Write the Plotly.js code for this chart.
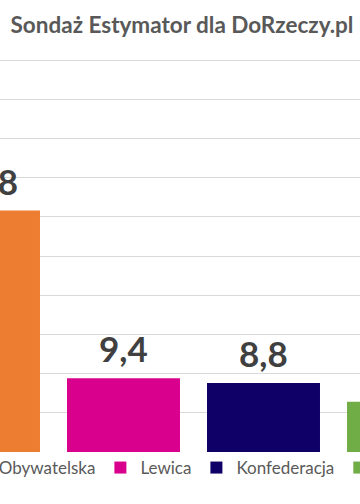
<!DOCTYPE html>
<html>
<head>
<meta charset="utf-8">
<script src="https://cdn.plot.ly/plotly-3.0.1.min.js"></script>
<style>
html,body{margin:0;padding:0;background:#fff;overflow:hidden;width:360px;height:504px;}
#wrap{position:relative;width:360px;height:504px;overflow:hidden;}
#chart{position:absolute;left:-200px;top:0;width:760px;height:504px;}
</style>
</head>
<body>
<div id="wrap"><div id="chart"></div></div>
<script>
const categories = ["Koalicja Obywatelska", "Lewica", "Konfederacja", "Trzecia Droga"];
const values = [30.8, 9.4, 8.8, 6.4];
const colors = ["#ED7D31", "#D9008D", "#0E0066", "#70AD47"];
const yTicks = [0, 5, 10, 15, 20, 25, 30, 35, 40, 45, 50];

const fmt = v => v.toFixed(1).replace('.', ',');
const FONT = 'Lato, "Open Sans", sans-serif';

const traces = categories.map((c, i) => ({
  type: 'bar',
  name: c,
  x: [i],
  y: [values[i]],
  width: 0.807,
  marker: {color: colors[i]},
  hoverinfo: 'skip',
  showlegend: true
}));

const annotations = categories.map((c, i) => ({
  x: i, y: values[i], xref: 'x', yref: 'y',
  text: fmt(values[i]),
  showarrow: false, yanchor: 'bottom', yshift: 7,
  font: {family: FONT, size: 35, color: '#404040', weight: 'bold'}
}));

const W = 760;
const layout = {
  width: W, height: 504,
  margin: {l: 0, r: 0, t: 59, b: 52, autoexpand: false},
  paper_bgcolor: '#fff', plot_bgcolor: '#fff',
  title: {
    text: 'Sondaż Estymator dla DoRzeczy.pl',
    x: (200 + 182) / W, xanchor: 'center', y: 1 - 25 / 504, yanchor: 'middle', yref: 'container',
    font: {family: FONT, size: 22.5, color: '#595959', weight: 'bold'}
  },
  barmode: 'overlay',
  xaxis: {range: [-1.3107, -1.3107 + W / 140], showticklabels: false, showgrid: false, zeroline: false, showline: false, ticks: ''},
  yaxis: {range: [0, 50.13], tickvals: yTicks, showticklabels: false, gridcolor: '#d9d9d9', gridwidth: 1,
          zeroline: false, showline: false, ticks: ''},
  showlegend: true,
  legend: {
    orientation: 'h', x: 0.125 + 2 / W, xanchor: 'left', y: 1 - 468 / 504, yref: 'container', yanchor: 'middle',
    font: {family: FONT, size: 17, color: '#595959'},
    itemwidth: 30, traceorder: 'normal', bgcolor: 'rgba(0,0,0,0)'
  },
  annotations: annotations
};

Plotly.newPlot('chart', traces, layout, {displayModeBar: false, staticPlot: true});
</script>
</body>
</html>
